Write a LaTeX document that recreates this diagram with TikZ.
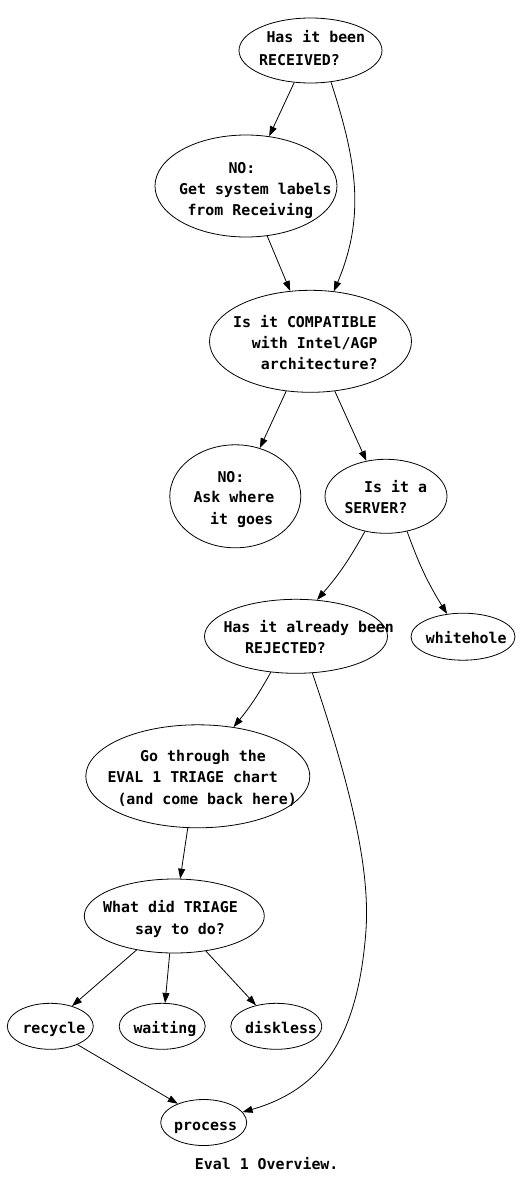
\documentclass[tikz,border=0pt]{standalone}
\usepackage{fontspec}
\setmonofont{DejaVu Sans Mono}
\usetikzlibrary{shapes.geometric,arrows.meta}
\tikzset{
  ell/.style={draw, ellipse, inner sep=0pt, line width=0.8pt},
  txt/.style={inner sep=0pt, anchor=base west, font=\ttfamily\bfseries\fontsize{14.9}{18}\selectfont},
  arr/.style={line width=0.8pt, -{Triangle[length=10pt,width=7pt]}}
}
\begin{document}
\begin{tikzpicture}[x=1pt,y=-1pt]
\useasboundingbox[fill=white] (0,0) rectangle (532,1186);
% ellipses
\node[ell, minimum width=143, minimum height=65] (A) at (310.5,50.5) {};
\node[ell, minimum width=182, minimum height=102] (B) at (246,186) {};
\node[ell, minimum width=202, minimum height=102] (C) at (310.5,341.3) {};
\node[ell, minimum width=131, minimum height=103] (D) at (235.3,496.3) {};
\node[ell, minimum width=122, minimum height=74] (E) at (386,496.3) {};
\node[ell, minimum width=183, minimum height=74] (F) at (296,636.3) {};
\node[ell, minimum width=104, minimum height=47] (W) at (463,636.7) {};
\node[ell, minimum width=224, minimum height=103] (G) at (197.8,776.3) {};
\node[ell, minimum width=180, minimum height=74] (H) at (174.3,916) {};
\node[ell, minimum width=86, minimum height=46] (R) at (50.3,1026.3) {};
\node[ell, minimum width=86, minimum height=46] (Wa) at (162.2,1026.3) {};
\node[ell, minimum width=91, minimum height=46] (Di) at (276.3,1026.3) {};
\node[ell, minimum width=86, minimum height=46] (P) at (203.7,1122.5) {};
% texts
\node[txt] (tA1) at (266.3,42.8) {Has it been};
\node[txt] (tA2) at (259,65.5) {RECEIVED?};
\node[txt] (tB1) at (228.3,173.8) {NO:};
\node[txt] (tB2) at (179,194.5) {Get system labels};
\node[txt] (tB3) at (187.3,215.5) {from Receiving};
\node[txt] (tC1) at (233,327.2) {Is it COMPATIBLE};
\node[txt] (tC2) at (251.7,348.8) {with Intel/AGP};
\node[txt] (tC3) at (260.7,369.5) {architecture?};
\node[txt] (tD1) at (217.3,482.2) {NO:};
\node[txt] (tD2) at (193.3,502.8) {Ask where};
\node[txt] (tD3) at (210,524.8) {it goes};
\node[txt] (tE1) at (364,492.8) {Is it a};
\node[txt] (tE2) at (344.3,513.8) {SERVER?};
\node[txt] (tF1) at (223.3,632.8) {Has it already been};
\node[txt] (tF2) at (245,653.8) {REJECTED?};
\node[txt] (tW) at (425.7,643) {whitehole};
\node[txt] (tG1) at (140,761.5) {Go through the};
\node[txt] (tG2) at (107.3,782.8) {EVAL 1 TRIAGE chart};
\node[txt] (tG3) at (117.3,804.8) {(and come back here)};
\node[txt] (tH1) at (103,912.8) {What did TRIAGE};
\node[txt] (tH2) at (135,934.2) {say to do?};
\node[txt] (tR) at (22.3,1033) {recycle};
\node[txt] (tWa) at (133.3,1033) {waiting};
\node[txt] (tDi) at (245,1033) {diskless};
\node[txt] (tP) at (174,1130) {process};
\node[txt] (cap) at (194.7,1169) {Eval 1 Overview.};
% edges
\draw[arr] (A.243) -- (B.65);
\draw[arr] (A.303) to[out=-72,in=67] (C.65);
\draw[arr] (B.293) -- (C.112);
\draw[arr] (C.244) -- (D.63.5);
\draw[arr] (C.296) -- (E.119);
\draw[arr] (E.239) to[bend left=6] (F.60);
\draw[arr] (E.301) to[bend left=-6] (W.125);
\draw[arr] (F.235) to[bend left=5] (G.54);
\draw[arr] (F.294) .. controls (352,790) and (370,870) .. (366,930) .. controls (358,1040) and (320,1090) .. (P.15);
\draw[arr] (G.259.5) -- (H.81.4);
\draw[arr] (H.222) -- (R.43);
\draw[arr] (H.263.4) -- (Wa.83);
\draw[arr] (H.312) -- (Di.134);
\draw[arr] (R.326) -- (P.144.6);
\end{tikzpicture}
\end{document}
